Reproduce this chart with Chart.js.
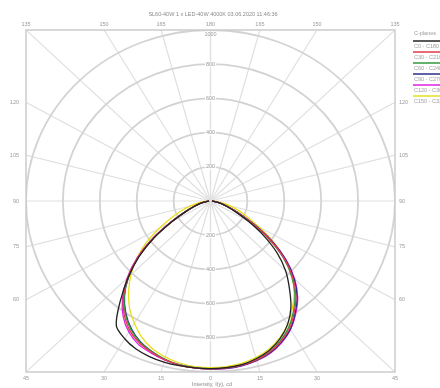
<!DOCTYPE html>
<html><head><meta charset="utf-8">
<script src="https://cdn.jsdelivr.net/npm/chart.js@4/dist/chart.umd.min.js"></script>
<style>html,body{margin:0;padding:0;background:#fff}#wrap{width:440px;height:388px;position:relative}</style>
</head><body><div id="wrap"><canvas id="c"></canvas></div>
<script>
// ---- data ----
const gammaAngles = [0,5,10,15,20,25,30,35,40,45,50,55,60,65,70,75,80,85,90];
// right half of diagram (C0 .. C150), intensity in cd
const c0   = [980,978,972,955,930,890,835,760,665,575,470,350,235,150,95,60,35,18,8];
const c30  = [982,980,975,962,940,905,858,792,720,630,520,390,262,165,100,62,36,19,8];
const c60  = [983,980,974,960,938,900,850,785,712,622,515,385,258,162,100,62,36,19,8];
const c90  = [985,983,978,965,945,910,865,800,730,640,530,400,270,170,105,65,38,20,8];
const c120 = [985,984,979,967,948,914,868,805,735,645,535,405,272,172,106,66,39,20,8];
const c150 = [975,972,964,948,922,885,835,772,705,625,528,415,305,220,160,110,70,38,12];
// left half of diagram (C180 .. C330)
const c180 = [980,980,978,975,968,955,930,890,760,630,505,370,240,150,95,60,35,18,8];
const c210 = [982,980,974,960,940,915,875,815,735,635,515,380,248,156,97,61,36,19,8];
const c240 = [980,978,972,958,936,908,865,805,728,630,512,378,246,155,96,60,35,18,8];
const c270 = [981,979,973,958,935,905,860,800,725,628,510,375,245,154,96,60,35,18,8];
const c300 = [982,980,975,962,945,925,885,825,742,640,520,385,250,158,98,62,36,19,8];
const c330 = [975,972,962,945,920,880,825,765,690,610,520,425,322,235,170,115,72,38,12];

const planeLabels = ['C0 - C180','C30 - C210','C60 - C240','C90 - C270','C120 - C300','C150 - C330'];
const planeColors = ['#222222','#e23a4e','#2f9a3c','#2c2c8c','#e020e0','#e6df1c'];
const radialTicks = [200,400,600,800,1000];
const spokeAngles = [0,15,30,45,60,75,90,105,120,135,150,165,180];
const titleText = 'SL60-40W 1 x LED-40W 4000K 03.06.2020 11:46:36';
const axisTitle = 'Intensity, I(\u03b3), cd';
const legendTitle = 'C-planes';
const rMax = 1000;

const pairs = [[c0,c180],[c30,c210],[c60,c240],[c90,c270],[c120,c300],[c150,c330]];
function curve(right,left){
  const pts=[];
  for(let i=gammaAngles.length-1;i>=0;i--){const g=gammaAngles[i]*Math.PI/180;pts.push({x:-left[i]*Math.sin(g),y:-left[i]*Math.cos(g)});}
  for(let i=1;i<gammaAngles.length;i++){const g=gammaAngles[i]*Math.PI/180;pts.push({x:right[i]*Math.sin(g),y:-right[i]*Math.cos(g)});}
  return pts;
}
const datasets = pairs.map((p,k)=>({label:planeLabels[k],data:curve(p[0],p[1]),showLine:true,borderColor:planeColors[k],backgroundColor:planeColors[k],borderWidth:1.3,pointRadius:0,tension:0.3,fill:false}));

const FONT = '5.5px "Liberation Sans", Arial, sans-serif';
const gridPlugin = {
  id:'polarGrid',
  beforeDatasetsDraw(chart){
    const {ctx,chartArea:a,scales:{x,y}} = chart;
    const cx=x.getPixelForValue(0), cy=y.getPixelForValue(0);
    ctx.save();
    ctx.beginPath();ctx.rect(a.left,a.top,a.right-a.left,a.bottom-a.top);ctx.clip();
    ctx.strokeStyle='#e0e0e0';ctx.lineWidth=1.2;
    spokeAngles.forEach(d=>{
      [1,-1].forEach(s=>{
        const t=d*Math.PI/180, sx=s*Math.sin(t), sy=-Math.cos(t);
        const k=rMax/Math.max(Math.abs(sx),Math.abs(sy));
        ctx.beginPath();ctx.moveTo(cx,cy);ctx.lineTo(x.getPixelForValue(sx*k),y.getPixelForValue(sy*k));ctx.stroke();
      });
    });
    ctx.strokeStyle='#d3d3d3';ctx.lineWidth=1.8;
    radialTicks.forEach(r=>{
      const rx=x.getPixelForValue(r)-cx, ry=cy-y.getPixelForValue(r);
      ctx.beginPath();ctx.ellipse(cx,cy,rx,ry,0,0,Math.PI*2);ctx.stroke();
    });
    ctx.restore();
    ctx.save();ctx.strokeStyle='#cccccc';ctx.lineWidth=1.5;
    ctx.strokeRect(a.left,a.top,a.right-a.left,a.bottom-a.top);ctx.restore();
  },
  afterDatasetsDraw(chart){
    const {ctx,chartArea:a,scales:{x,y}} = chart;
    const cx=x.getPixelForValue(0), cy=y.getPixelForValue(0);
    ctx.save();ctx.font=FONT;ctx.fillStyle='#9a9a9a';ctx.textAlign='center';ctx.textBaseline='middle';
    radialTicks.slice(0,4).forEach(r=>{
      [1,-1].forEach(s=>{
        const py=y.getPixelForValue(s*r);
        const w=ctx.measureText(String(r)).width;
        ctx.fillStyle='rgba(255,255,255,0.85)';ctx.fillRect(cx-w/2-1,py-3,w+2,6);
        ctx.fillStyle='#9a9a9a';ctx.fillText(String(r),cx,py);
      });
    });
    ctx.fillText(String(rMax),cx,a.top+4);
    spokeAngles.forEach(d=>{
      [1,-1].forEach(s=>{
        if(s===-1&&(d===0||d===180))return;
        const t=d*Math.PI/180, sx=s*Math.sin(t), sy=-Math.cos(t);
        const k=rMax/Math.max(Math.abs(sx),Math.abs(sy));
        const px=x.getPixelForValue(sx*k), py=y.getPixelForValue(sy*k);
        const lbl=String(d);
        if(Math.abs(Math.abs(sy*k)-rMax)<1e-6){
          ctx.textAlign='center';
          ctx.fillText(lbl,px,sy>0?py-6:py+6);
        } else {
          ctx.textAlign=sx<0?'right':'left';
          ctx.fillText(lbl,sx<0?px-7:px+4,py);
        }
      });
    });
    ctx.textAlign='center';ctx.fillStyle='#8a8a8a';
    ctx.fillText(titleText,213,14);
    ctx.fillText(axisTitle,212,384);
    ctx.textAlign='left';ctx.fillStyle='#9a9a9a';
    ctx.fillText(legendTitle,414,33);
    planeLabels.forEach((l,i)=>{
      const ly=41+i*11;
      ctx.strokeStyle=planeColors[i];ctx.lineWidth=1.5;
      ctx.beginPath();ctx.moveTo(413,ly);ctx.lineTo(440,ly);ctx.stroke();
      ctx.fillStyle='#a0a0a0';ctx.fillText(l,414,ly+5);
    });
    ctx.restore();
  }
};

new Chart(document.getElementById('c'),{
  type:'scatter',
  data:{datasets},
  options:{
    responsive:true,maintainAspectRatio:false,animation:false,
    layout:{padding:{left:26,right:45,top:30,bottom:16}},
    scales:{
      x:{type:'linear',min:-rMax,max:rMax,display:false},
      y:{type:'linear',min:-rMax,max:rMax,display:false}
    },
    plugins:{legend:{display:false},tooltip:{enabled:false},title:{display:false}}
  },
  plugins:[gridPlugin]
});
</script></body></html>
